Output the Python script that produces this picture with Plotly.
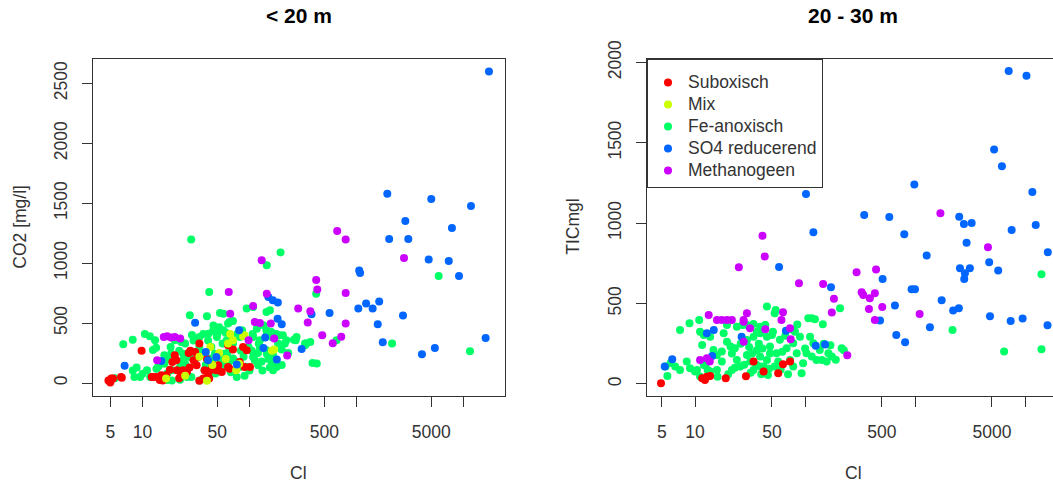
import plotly.graph_objects as go

# ---------------- data : panel "< 20 m" (Cl vs CO2 [mg/l]) ----------------
l_sub_cl = [4.8, 5.0, 5.1, 5.3, 6.3, 6.4, 9.8, 12.2, 12.6, 13.5, 14.5, 15.0, 15.4, 16.6, 18, 19, 20, 20.7, 21, 22,
            22.5, 23, 24, 25, 26, 27, 27.5, 28, 30, 31, 32, 33, 34, 34, 37, 38, 40, 41, 42, 43,
            45, 49, 51, 55, 63, 63, 65, 70, 81, 87, 90, 94, 101]
l_sub_co2 = [22, 5, 37, 37, 50, 45, 270, 50, 50, 50, 25, 64, 22, 64, 110, 175, 231, 190, 106, 40,
             95, 73, 106, 78, 92, 250, 130, 270, 190, 259, 148, 217, 20, 329, 37, 106, 200, 64, 37, 106,
             150, 106, 148, 92, 315, 134, 120, 280, 175, 300, 134, 273, 134]

l_mix_cl = [16.6, 25, 34, 40, 43, 45, 52, 63, 66, 70, 75, 80, 87, 90, 162, 170, 60]
l_mix_co2 = [37, 60, 220, 20, 300, 150, 250, 330, 410, 356, 106, 160, 390, 398, 270, 279, 200]

l_fe_cl = [28.5, 195, 145, 42, 27.7, 40, 53, 57, 63, 65, 94, 108, 144, 155, 420, 5860, 2150, 11500, 388, 330,
           650, 260, 190, 425, 275, 340, 214, 221, 5.5, 6.6, 8.1, 8.1, 8.8, 9.5, 8.4, 10, 11, 11.8, 11.7, 13.1,
           13.4, 10.5, 12.5, 13.5, 14.1, 16, 17.5, 18.8, 17, 17, 18.8, 22.4, 18.5, 19.5, 16, 18.3, 20, 23, 22, 24,
           27.7, 24, 26, 22.4, 25, 26, 28.6, 34, 25, 30, 32, 34, 37, 41.3, 45.6, 49.5, 57, 61.3, 65.5, 42.6,
           47.5, 53, 59, 70, 81, 94, 108, 108, 125, 135, 144, 166, 179, 125, 144, 161, 166, 70, 81, 76,
           38, 49.5, 41, 45, 48, 50, 52, 56, 58, 63, 66, 72, 77, 83, 92, 100, 105, 112, 122, 132,
           145, 162, 178, 107, 145, 34, 36, 44, 62, 88, 98, 120, 130, 150, 200, 230, 185, 200, 155, 31,
           39, 55, 67, 90, 120, 29, 46, 60, 85, 66, 70, 117, 160, 205, 270, 330, 370, 160, 170]
l_fe_co2 = [1197, 1090, 982, 760, 565, 557, 584, 579, 496, 509, 621, 634, 593, 607, 746, 893, 329, 265, 167, 329,
            356, 362, 398, 162, 384, 329, 329, 356, 40, 323, 362, 105, 130, 50, 50, 78, 106, 50, 390, 356,
            295, 410, 275, 120, 140, 160, 200, 106, 80, 25, 22, 28, 245, 190, 231, 300, 356, 342, 270, 190,
            217, 245, 92, 134, 160, 50, 50, 22, 330, 355, 356, 384, 410, 412, 434, 384, 440, 356, 300, 204,
            245, 204, 162, 204, 134, 134, 217, 384, 356, 482, 440, 231, 134, 300, 273, 384, 106, 329, 384, 50,
            106, 92, 355, 175, 80, 410, 465, 330, 245, 160, 355, 190, 410, 270, 135, 105, 270, 190, 330, 105,
            245, 160, 410, 410, 410, 300, 250, 300, 250, 220, 300, 250, 180, 200, 150, 250, 330, 280, 130, 160,
            150, 120, 90, 60, 150, 400, 480, 420, 440, 190, 518, 454, 425, 398, 356, 315, 342, 217, 162]

l_so4_cl = [6.8, 15, 31, 39, 41, 49, 76, 80, 135, 140, 150, 165, 184, 180, 183, 200, 307, 380, 560, 1040,
            1060, 1080, 1230, 1415, 1630, 1580, 1760, 1940, 2020, 2720, 2860, 3050, 4090, 4730, 5000, 5400,
            7280, 7800, 9080, 11750, 16100, 17300]
l_so4_co2 = [145, 184, 504, 259, 190, 217, 154, 440, 292, 379, 718, 690, 671, 196, 537, 490, 284, 573, 585, 621,
             940, 918, 663, 621, 680, 490, 340, 1580, 1202, 563, 1352, 1202, 240, 1030, 1536, 292,
             1018, 1294, 893, 1478, 376, 2600]

l_meth_cl = [13.7, 15.8, 17, 18.5, 20, 22.5, 64, 66, 98, 108, 112, 125, 145, 158, 170, 130, 225, 285, 370, 350,
             420, 430, 478, 600, 660, 720, 792, 792, 792, 2780]
l_meth_co2 = [190, 384, 390, 380, 384, 371, 760, 579, 356, 643, 510, 500, 746, 496, 371, 1024, 230, 621, 600, 506,
              860, 780, 398, 332, 1269, 387, 1197, 751, 496, 1043]

# ---------------- data : panel "20 - 30 m" (Cl vs TICmgl) ----------------
r_sub_cl = [4.9, 11.6, 12.3, 12.8, 13.7, 19, 29, 34, 42, 57, 63, 73]
r_sub_tic = [4, 35, 25, 45, 50, 35, 47, 139, 77, 66, 122, 139]

r_mix_cl = []
r_mix_tic = []

r_fe_cl = [45, 54, 107, 115, 123, 145, 208, 215, 225, 93, 2190, 6450, 14100, 14100, 8.9, 7.3, 10.9, 11.1, 5.4, 5.6,
           6.6, 7.3, 8.4, 9.0, 10.4, 11.1, 12.4, 13.7, 15.8, 17.5, 18.2, 19.5, 17.5, 21.6, 24, 23, 25.7, 29.6, 31.8, 34,
           36.5, 39, 42, 45, 48, 29.6, 34, 36.5, 19.5, 24, 29.6, 43.5, 39, 50, 53, 34, 27, 12, 13.7, 11.6,
           14.7, 15.8, 21, 21.6, 10, 12, 13, 39, 45, 51, 59, 48, 55, 68, 78, 84, 73, 53, 78, 96,
           90, 81, 111, 119, 103, 115, 127, 142, 157, 136, 163, 39, 42, 46, 26, 31, 33, 38, 41, 28,
           36, 32, 40, 47, 57, 62, 66, 75, 85, 70, 60, 100, 148, 175, 190, 170, 20, 16, 23, 6]
r_fe_tic = [481, 460, 408, 408, 402, 371, 471, 222, 210, 67, 336, 201, 682, 216, 377, 336, 398, 325, 108, 50,
            108, 87, 139, 97, 87, 46, 118, 77, 87, 139, 315, 263, 201, 87, 149, 222, 108, 180, 139, 87,
            211, 170, 108, 149, 190, 273, 294, 325, 367, 356, 367, 367, 315, 305, 440, 373, 367, 305, 294, 242,
            211, 180, 232, 190, 77, 118, 87, 356, 294, 325, 274, 232, 191, 222, 253, 191, 149, 108, 108, 129,
            294, 325, 294, 253, 191, 170, 149, 149, 139, 211, 191, 108, 67, 56, 250, 230, 190, 250, 220, 120,
            120, 70, 60, 95, 140, 200, 300, 340, 370, 60, 90, 220, 250, 170, 150, 240, 60, 45, 100, 130]

r_so4_cl = [5.3, 6.2, 12.8, 14.8, 14.3, 26.5, 58, 67, 102, 119, 125, 152, 172, 345, 480, 507, 583, 656, 675, 798,
            812, 930, 998, 985, 1275, 1365, 1745, 2220, 2500, 2520, 2780, 3270, 2940, 2560, 3150, 2840, 2800, 4720,
            5700, 4800, 7400, 9500, 7550, 12500, 16100, 16000, 5230, 6160, 7100, 10300, 11650]
r_so4_tic = [108, 154, 315, 336, 174, 294, 727, 331, 1181, 943, 238, 245, 601, 1051, 395, 653, 1038, 487, 305, 931,
             259, 589, 589, 1241, 798, 352, 520, 456, 471, 1039, 995, 1001, 878, 719, 719, 688, 653, 756,
             705, 421, 392, 407, 958, 988, 819, 365, 1458, 1354, 1946, 1916, 1194]

r_meth_cl = [11.1, 13.6, 12.8, 13.3, 15.8, 17.5, 19.5, 21.6, 27.6, 29.6, 27.7, 27.7, 31.6, 43.5, 41, 43, 25, 61, 63,
             73, 74, 88, 146, 183, 175, 242, 294, 327, 338, 381, 388, 431, 431, 442, 503, 1100, 1700, 4600]
r_meth_tic = [149, 139, 160, 429, 398, 398, 398, 398, 398, 440, 387, 263, 346, 340, 922, 792, 725, 398, 446,
              346, 278, 626, 622, 529, 444, 178, 695, 570, 553, 466, 533, 564, 398, 711, 479, 435, 1061, 850]

# ---------------- labels ----------------
groups = ["Suboxisch", "Mix", "Fe-anoxisch", "SO4 reducerend", "Methanogeen"]
colors = ["#FF0000", "#CCFF00", "#00FF66", "#0066FF", "#CC00FF"]
x_tickvals = [5, 10, 50, 100, 500, 1000, 5000, 10000]
x_ticktext = ["5", "10", "50", "", "500", "", "5000", ""]
y1_ticks = [0, 500, 1000, 1500, 2000, 2500]
y2_ticks = [0, 500, 1000, 1500, 2000]
titles = ["<b>&lt; 20 m</b>", "<b>20 - 30 m</b>"]
x_title = "Cl"
y1_title = "CO2 [mg/l]"
y2_title = "TICmgl"

W, H = 1053, 483
FONT = "Liberation Sans, Arial, sans-serif"
TXT = "#333333"

left = {
    "Suboxisch": (l_sub_cl, l_sub_co2), "Mix": (l_mix_cl, l_mix_co2), "Fe-anoxisch": (l_fe_cl, l_fe_co2),
    "SO4 reducerend": (l_so4_cl, l_so4_co2), "Methanogeen": (l_meth_cl, l_meth_co2)}
right = {
    "Suboxisch": (r_sub_cl, r_sub_tic), "Mix": (r_mix_cl, r_mix_tic), "Fe-anoxisch": (r_fe_cl, r_fe_tic),
    "SO4 reducerend": (r_so4_cl, r_so4_tic), "Methanogeen": (r_meth_cl, r_meth_tic)}

draw_order = ["Fe-anoxisch", "Suboxisch", "Mix", "SO4 reducerend", "Methanogeen"]

fig = go.Figure()
for panel, data in ((1, left), (2, right)):
    for g in draw_order:
        i = groups.index(g)
        xs, ys = data[g]
        fig.add_trace(go.Scatter(
            x=xs, y=ys, mode="markers",
            name='<span style="font-size:17.5px">' + g + '</span>',
            legendrank=i + 1,
            showlegend=(panel == 1),
            marker=dict(color=colors[i], size=8, line=dict(width=0)),
            xaxis="x" if panel == 1 else "x2", yaxis="y" if panel == 1 else "y2",
            hoverinfo="skip"))

axis_common = dict(showgrid=False, zeroline=False, showline=True, linecolor="#333333", linewidth=1,
                   ticks="outside", ticklen=10, tickwidth=1, tickcolor="#333333", automargin=False,
                   tickfont=dict(family=FONT, size=17.5, color=TXT))
ydom = [1 - 395.5 / H, 1 - 58.5 / H]

fig.update_layout(
    width=W, height=H, autosize=False,
    margin=dict(l=0, r=0, t=0, b=0, pad=0, autoexpand=False),
    paper_bgcolor="white", plot_bgcolor="white",
    xaxis=dict(axis_common, domain=[93 / W, 505 / W], type="log", range=[0.537, 4.388],
               tickmode="array", tickvals=x_tickvals, ticktext=x_ticktext, mirror=True,
               anchor="y", ticklabelstandoff=10),
    yaxis=dict(axis_common, domain=ydom, range=[-104, 2708], tickmode="array", tickvals=y1_ticks,
               tickangle=-90, mirror=True, anchor="x", ticklabelstandoff=8),
    xaxis2=dict(axis_common, domain=[647 / W, 1.0], type="log", range=[0.563, 4.254],
                tickmode="array", tickvals=x_tickvals, ticktext=x_ticktext, mirror=True,
                anchor="y2", ticklabelstandoff=10),
    yaxis2=dict(axis_common, domain=ydom, range=[-72, 2024], tickmode="array", tickvals=y2_ticks,
                tickangle=-90, mirror=False, anchor="x2", ticklabelstandoff=8),
    legend=dict(x=647 / W, y=1 - 59 / H, xanchor="left", yanchor="top", bgcolor="white",
                bordercolor="#333333", borderwidth=1, font=dict(family=FONT, size=14.6, color=TXT),
                tracegroupgap=0,
                title=dict(text=" ", font=dict(family=FONT, size=5))),
    showlegend=True,
)

ann = [
    dict(text=titles[0], x=299 / W, y=1 - 16 / H, font=dict(family=FONT, size=21, color="black")),
    dict(text=titles[1], x=853 / W, y=1 - 16 / H, font=dict(family=FONT, size=21, color="black")),
    dict(text=x_title, x=298 / W, y=1 - 473 / H, font=dict(family=FONT, size=17.5, color=TXT)),
    dict(text=x_title, x=853 / W, y=1 - 473 / H, font=dict(family=FONT, size=17.5, color=TXT)),
    dict(text=y1_title, x=20 / W, y=1 - 226.7 / H, textangle=-90, font=dict(family=FONT, size=17.5, color=TXT)),
    dict(text=y2_title, x=573 / W, y=1 - 226.7 / H, textangle=-90, font=dict(family=FONT, size=17.5, color=TXT)),
]
for a in ann:
    fig.add_annotation(xref="paper", yref="paper", showarrow=False, xanchor="center", yanchor="middle", **a)

fig.write_html("out.html")
